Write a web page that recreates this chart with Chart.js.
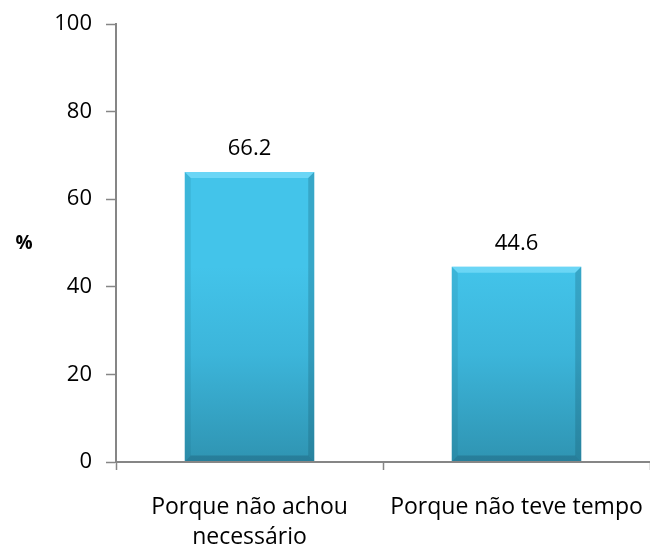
<!DOCTYPE html>
<html>
<head>
    <title>Motivos</title>
    <script src="https://cdn.jsdelivr.net/npm/chart.js"></script>
    <style>
        html, body { margin: 0; padding: 0; background: #fff; }
        #wrap { width: 650px; height: 549px; position: relative; }
    </style>
</head>
<body>
    <div id="wrap">
        <canvas id="motivosChart"></canvas>
    </div>

    <script>
        const categories = [['Porque não achou', 'necessário'], 'Porque não teve tempo'];
        const percentages = [66.2, 44.6];
        const yTicks = [0, 20, 40, 60, 80, 100];

        const axisGray = '#868686';
        const fontFamily = "'Open Sans', 'Noto Sans', sans-serif";

        // each bar gets its own gradient (bright top, darker base) plus a bevel rim
        const bevelPlugin = {
            id: 'bevelPlugin',
            beforeDatasetsDraw(chart) {
                const c = chart.ctx;
                chart.getDatasetMeta(0).data.forEach(bar => {
                    const g = c.createLinearGradient(0, bar.y, 0, bar.base);
                    g.addColorStop(0, '#43c4ea');
                    g.addColorStop(0.45, '#3cb5da');
                    g.addColorStop(1, '#2f94b2');
                    bar.options.backgroundColor = g;
                });
            },
            afterDatasetsDraw(chart) {
                const c = chart.ctx;
                c.save();
                chart.getDatasetMeta(0).data.forEach(bar => {
                    const l = bar.x - bar.width / 2, r = bar.x + bar.width / 2;
                    const t = bar.y, b = bar.base, d = 6;
                    c.fillStyle = 'rgba(140,230,255,0.55)';
                    c.beginPath();
                    c.moveTo(l, t); c.lineTo(r, t); c.lineTo(r - d, t + d); c.lineTo(l + d, t + d);
                    c.closePath(); c.fill();
                    c.fillStyle = 'rgba(20,80,100,0.25)';
                    c.beginPath();
                    c.moveTo(r, t); c.lineTo(r, b); c.lineTo(r - d, b - d); c.lineTo(r - d, t + d);
                    c.closePath(); c.fill();
                    c.fillStyle = 'rgba(20,70,90,0.28)';
                    c.beginPath();
                    c.moveTo(l, b); c.lineTo(r, b); c.lineTo(r - d, b - d); c.lineTo(l + d, b - d);
                    c.closePath(); c.fill();
                    c.fillStyle = 'rgba(20,80,100,0.12)';
                    c.beginPath();
                    c.moveTo(l, t); c.lineTo(l + d, t + d); c.lineTo(l + d, b - d); c.lineTo(l, b);
                    c.closePath(); c.fill();
                });
                c.restore();
            }
        };

        // value labels above the bars + the "%" axis title
        const labelsPlugin = {
            id: 'labelsPlugin',
            afterDatasetsDraw(chart) {
                const c = chart.ctx;
                c.save();
                c.fillStyle = '#000';
                c.font = '22px ' + fontFamily;
                c.textAlign = 'center';
                c.textBaseline = 'middle';
                chart.getDatasetMeta(0).data.forEach((bar, i) => {
                    c.fillText(percentages[i].toFixed(1), bar.x, bar.y - 23);
                });
                c.font = 'bold 19px ' + fontFamily;
                c.fillText('%', 24, 244);
                c.restore();
            }
        };

        const ctx = document.getElementById('motivosChart').getContext('2d');
        new Chart(ctx, {
            type: 'bar',
            data: {
                labels: categories,
                datasets: [{
                    data: percentages,
                    backgroundColor: '#3cb5da',
                    borderWidth: 0,
                    barPercentage: 0.485,
                    categoryPercentage: 1.0
                }]
            },
            options: {
                responsive: true,
                maintainAspectRatio: false,
                animation: false,
                layout: { padding: { top: 24, right: 0, left: 0, bottom: 0 } },
                plugins: {
                    legend: { display: false },
                    tooltip: { enabled: false }
                },
                scales: {
                    x: {
                        grid: {
                            offset: true,
                            drawOnChartArea: false,
                            drawTicks: true,
                            tickLength: 8,
                            tickColor: axisGray,
                            tickWidth: 1.5
                        },
                        border: { color: axisGray, width: 2, z: 1 },
                        ticks: {
                            color: '#000',
                            padding: 23,
                            maxRotation: 0,
                            font: { family: fontFamily, size: 23, lineHeight: 1.3 }
                        },
                        afterFit(scale) {
                            scale.height = 87;
                            scale.paddingLeft = 0;
                            scale.paddingRight = 0;
                        }
                    },
                    y: {
                        min: 0,
                        max: 100,
                        afterBuildTicks(scale) {
                            scale.ticks = yTicks.map(v => ({ value: v }));
                        },
                        grid: {
                            drawOnChartArea: false,
                            drawTicks: true,
                            tickLength: 10,
                            tickColor: axisGray,
                            tickWidth: 1.5
                        },
                        border: { color: axisGray, width: 2 },
                        ticks: {
                            color: '#000',
                            padding: 14,
                            font: { family: fontFamily, size: 22 }
                        },
                        afterFit(scale) {
                            scale.width = 116;
                            scale.paddingTop = 0;
                            scale.paddingBottom = 0;
                        }
                    }
                }
            },
            plugins: [bevelPlugin, labelsPlugin]
        });
    </script>
</body>
</html>
